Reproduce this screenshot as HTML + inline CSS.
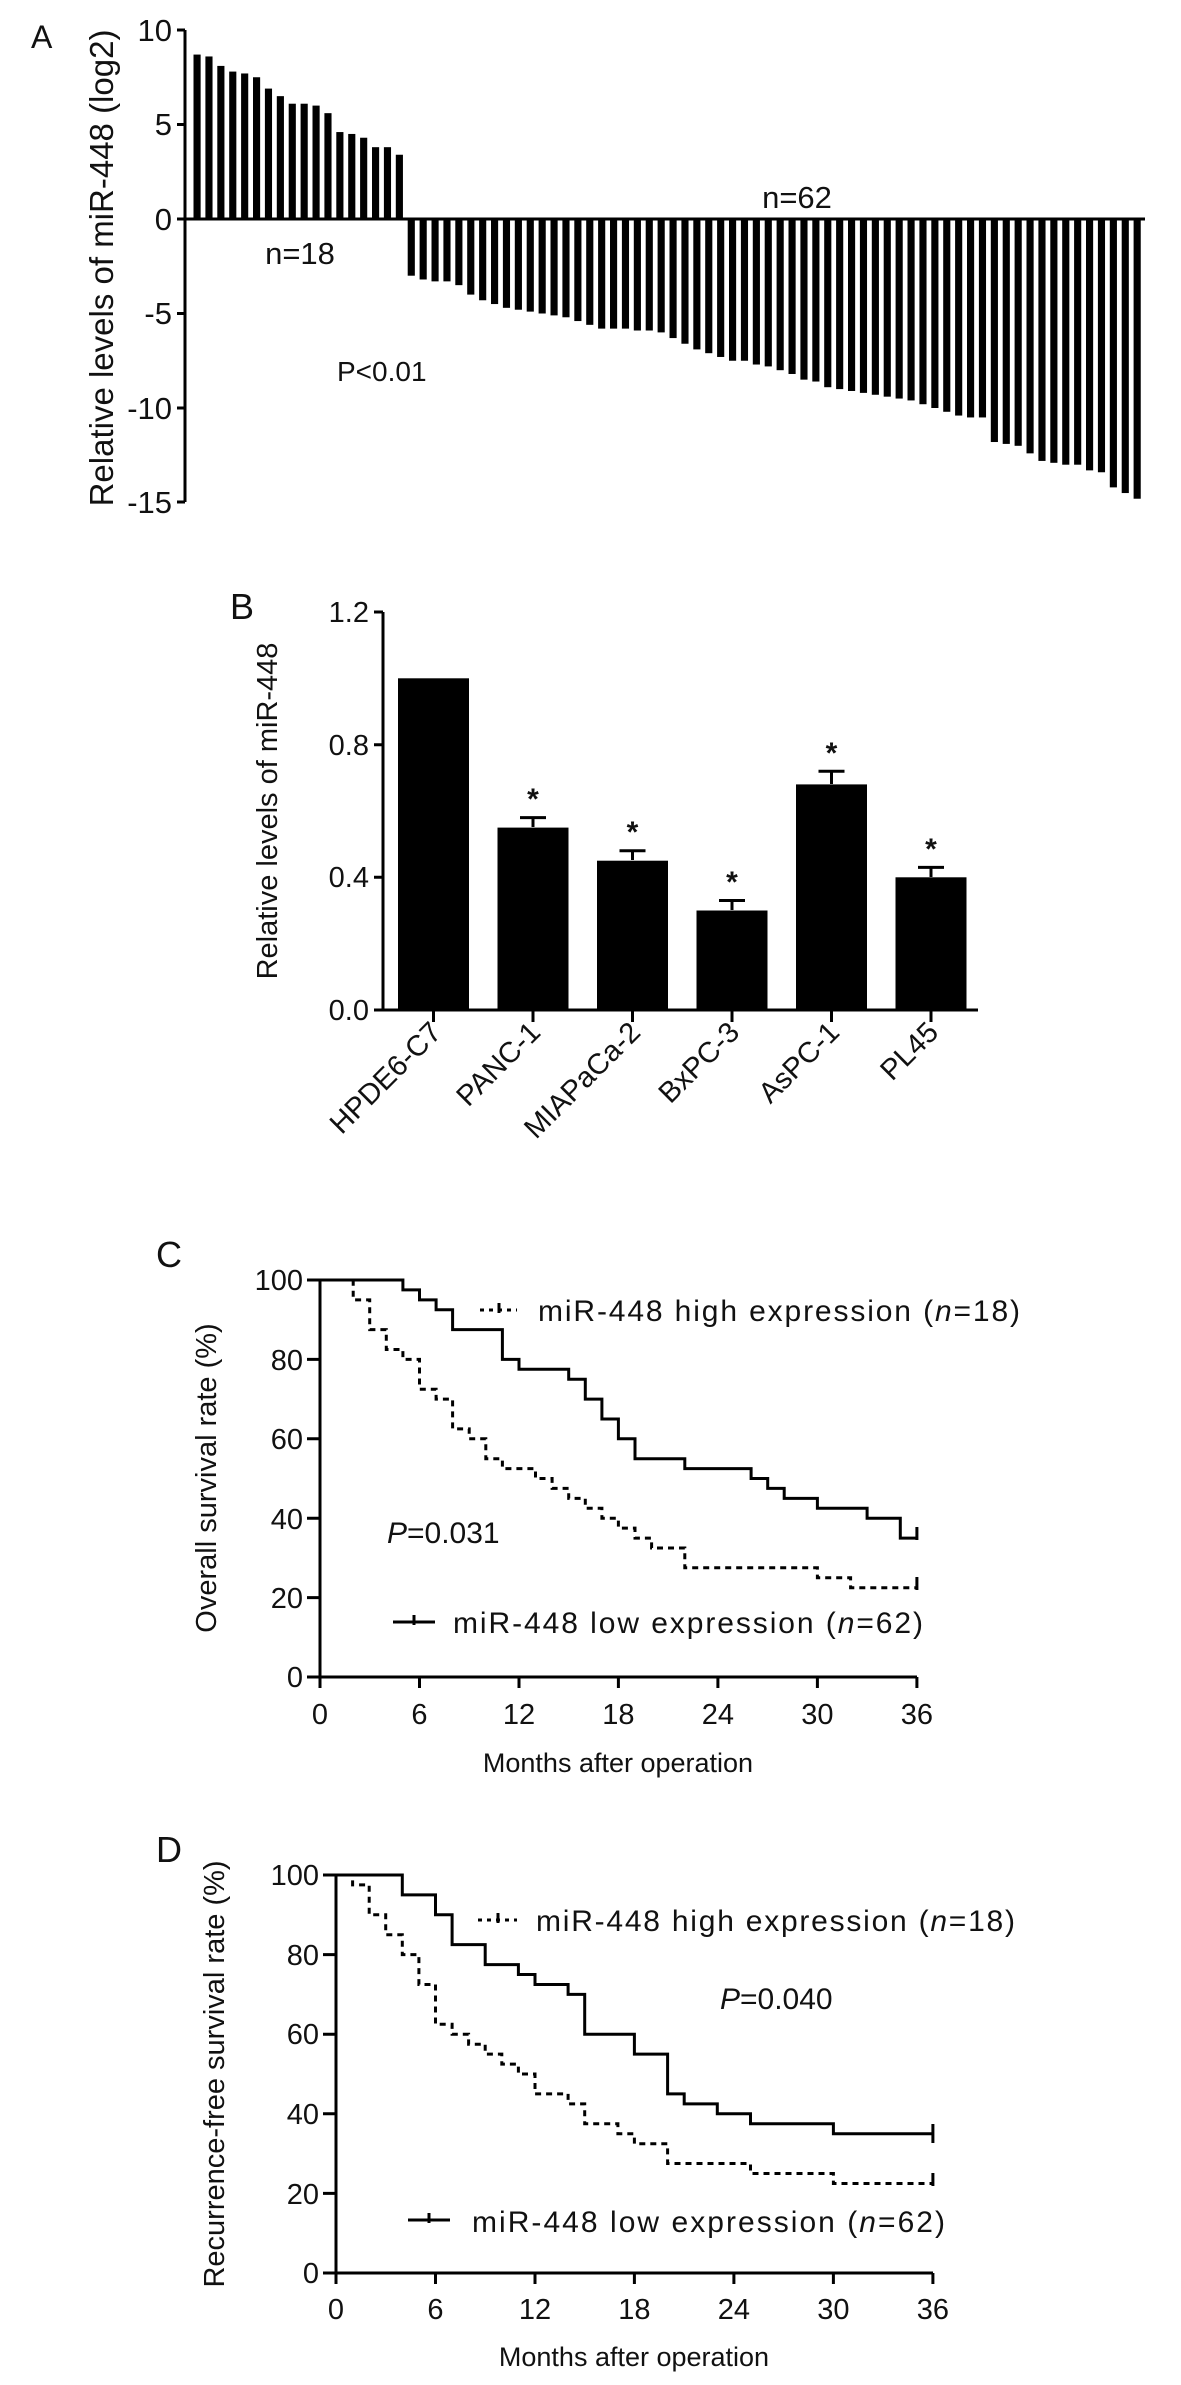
<!DOCTYPE html>
<html><head><meta charset="utf-8"><style>
html,body{margin:0;padding:0;background:#fff}
svg{display:block}
text{font-family:"Liberation Sans",Arial,sans-serif;fill:#111}
</style></head><body>
<svg width="1181" height="2385" viewBox="0 0 1181 2385" xmlns="http://www.w3.org/2000/svg">
<!-- Panel A -->
<text x="31" y="48" font-size="32">A</text>
<text transform="translate(113,268) rotate(-90)" font-size="33" text-anchor="middle">Relative levels of miR-448 (log2)</text>
<g stroke="#000" stroke-width="3" fill="none">
<path d="M185,30 V502 M177,30 H185 M177,124.5 H185 M177,219 H185 M177,313.5 H185 M177,408 H185 M177,502 H185 M185,219 H1145"/>
</g>
<g font-size="31" text-anchor="end">
<text x="172" y="41">10</text><text x="172" y="135">5</text><text x="172" y="230">0</text>
<text x="172" y="324">-5</text><text x="172" y="419">-10</text><text x="172" y="513">-15</text>
</g>
<g transform="translate(193.5,219) scale(11.9,-18.9)" fill="#000">
<rect x="0" y="0" width="0.6" height="8.7"/><rect x="1" y="0" width="0.6" height="8.6"/><rect x="2" y="0" width="0.6" height="8.1"/><rect x="3" y="0" width="0.6" height="7.8"/><rect x="4" y="0" width="0.6" height="7.7"/><rect x="5" y="0" width="0.6" height="7.5"/><rect x="6" y="0" width="0.6" height="6.9"/><rect x="7" y="0" width="0.6" height="6.5"/><rect x="8" y="0" width="0.6" height="6.1"/><rect x="9" y="0" width="0.6" height="6.1"/><rect x="10" y="0" width="0.6" height="6.0"/><rect x="11" y="0" width="0.6" height="5.6"/><rect x="12" y="0" width="0.6" height="4.6"/><rect x="13" y="0" width="0.6" height="4.5"/><rect x="14" y="0" width="0.6" height="4.3"/><rect x="15" y="0" width="0.6" height="3.8"/><rect x="16" y="0" width="0.6" height="3.8"/><rect x="17" y="0" width="0.6" height="3.4"/>
<rect x="18" y="-3.0" width="0.6" height="3.0"/><rect x="19" y="-3.2" width="0.6" height="3.2"/><rect x="20" y="-3.3" width="0.6" height="3.3"/><rect x="21" y="-3.3" width="0.6" height="3.3"/><rect x="22" y="-3.5" width="0.6" height="3.5"/><rect x="23" y="-4.0" width="0.6" height="4.0"/><rect x="24" y="-4.3" width="0.6" height="4.3"/><rect x="25" y="-4.5" width="0.6" height="4.5"/><rect x="26" y="-4.7" width="0.6" height="4.7"/><rect x="27" y="-4.8" width="0.6" height="4.8"/>
<rect x="28" y="-4.9" width="0.6" height="4.9"/><rect x="29" y="-5.0" width="0.6" height="5.0"/><rect x="30" y="-5.1" width="0.6" height="5.1"/><rect x="31" y="-5.2" width="0.6" height="5.2"/><rect x="32" y="-5.4" width="0.6" height="5.4"/><rect x="33" y="-5.6" width="0.6" height="5.6"/><rect x="34" y="-5.8" width="0.6" height="5.8"/><rect x="35" y="-5.8" width="0.6" height="5.8"/><rect x="36" y="-5.8" width="0.6" height="5.8"/><rect x="37" y="-5.9" width="0.6" height="5.9"/>
<rect x="38" y="-5.9" width="0.6" height="5.9"/><rect x="39" y="-6.0" width="0.6" height="6.0"/><rect x="40" y="-6.3" width="0.6" height="6.3"/><rect x="41" y="-6.6" width="0.6" height="6.6"/><rect x="42" y="-6.9" width="0.6" height="6.9"/><rect x="43" y="-7.1" width="0.6" height="7.1"/><rect x="44" y="-7.3" width="0.6" height="7.3"/><rect x="45" y="-7.5" width="0.6" height="7.5"/><rect x="46" y="-7.5" width="0.6" height="7.5"/><rect x="47" y="-7.7" width="0.6" height="7.7"/>
<rect x="48" y="-7.8" width="0.6" height="7.8"/><rect x="49" y="-8.0" width="0.6" height="8.0"/><rect x="50" y="-8.2" width="0.6" height="8.2"/><rect x="51" y="-8.5" width="0.6" height="8.5"/><rect x="52" y="-8.6" width="0.6" height="8.6"/><rect x="53" y="-8.9" width="0.6" height="8.9"/><rect x="54" y="-9.0" width="0.6" height="9.0"/><rect x="55" y="-9.1" width="0.6" height="9.1"/><rect x="56" y="-9.2" width="0.6" height="9.2"/><rect x="57" y="-9.3" width="0.6" height="9.3"/>
<rect x="58" y="-9.4" width="0.6" height="9.4"/><rect x="59" y="-9.5" width="0.6" height="9.5"/><rect x="60" y="-9.6" width="0.6" height="9.6"/><rect x="61" y="-9.8" width="0.6" height="9.8"/><rect x="62" y="-10.0" width="0.6" height="10.0"/><rect x="63" y="-10.2" width="0.6" height="10.2"/><rect x="64" y="-10.4" width="0.6" height="10.4"/><rect x="65" y="-10.5" width="0.6" height="10.5"/><rect x="66" y="-10.5" width="0.6" height="10.5"/><rect x="67" y="-11.8" width="0.6" height="11.8"/>
<rect x="68" y="-11.9" width="0.6" height="11.9"/><rect x="69" y="-12.0" width="0.6" height="12.0"/><rect x="70" y="-12.4" width="0.6" height="12.4"/><rect x="71" y="-12.8" width="0.6" height="12.8"/><rect x="72" y="-12.9" width="0.6" height="12.9"/><rect x="73" y="-13.0" width="0.6" height="13.0"/><rect x="74" y="-13.0" width="0.6" height="13.0"/><rect x="75" y="-13.3" width="0.6" height="13.3"/><rect x="76" y="-13.4" width="0.6" height="13.4"/><rect x="77" y="-14.2" width="0.6" height="14.2"/><rect x="78" y="-14.5" width="0.6" height="14.5"/><rect x="79" y="-14.8" width="0.6" height="14.8"/>
</g>
<text x="300" y="264" font-size="31" text-anchor="middle">n=18</text>
<text x="797" y="208" font-size="31" text-anchor="middle">n=62</text>
<text x="337" y="381" font-size="28">P&lt;0.01</text>

<!-- Panel B -->
<text x="230" y="619" font-size="36">B</text>
<text transform="translate(277,811) rotate(-90)" font-size="29" text-anchor="middle">Relative levels of miR-448</text>
<g stroke="#000" stroke-width="3" fill="none">
<path d="M383,612 V1010 M374,612 H383 M374,744.7 H383 M374,877.3 H383 M374,1010 H383 M383,1010 H978"/>
<path d="M433.5,1010 V1022 M533,1010 V1022 M632.5,1010 V1022 M732,1010 V1022 M831.5,1010 V1022 M931,1010 V1022"/>
<path d="M533,827 V817.6 M520,817.6 H546 M632.5,860 V850.8 M619.5,850.8 H645.5 M732,910 V900.5 M719,900.5 H745 M831.5,784 V771.2 M818.5,771.2 H844.5 M931,877 V867.4 M918,867.4 H944"/>
</g>
<g font-size="29" text-anchor="end">
<text x="369" y="622">1.2</text><text x="369" y="755">0.8</text><text x="369" y="887">0.4</text><text x="369" y="1020">0.0</text>
</g>
<g fill="#000">
<rect x="398" y="678.3" width="71" height="331.7"/>
<rect x="497.5" y="827.6" width="71" height="182.4"/>
<rect x="597" y="860.7" width="71" height="149.3"/>
<rect x="696.5" y="910.5" width="71" height="99.5"/>
<rect x="796" y="784.4" width="71" height="225.6"/>
<rect x="895.5" y="877.3" width="71" height="132.7"/>
</g>
<g font-size="30" text-anchor="middle" font-weight="bold">
<text x="533" y="809">*</text><text x="632.5" y="842">*</text><text x="732" y="892">*</text><text x="831.5" y="763">*</text><text x="931" y="859">*</text>
</g>
<g font-size="29" text-anchor="end">
<text transform="translate(443,1034) rotate(-45)">HPDE6-C7</text>
<text transform="translate(542,1034) rotate(-45)">PANC-1</text>
<text transform="translate(642,1034) rotate(-45)">MIAPaCa-2</text>
<text transform="translate(741,1034) rotate(-45)">BxPC-3</text>
<text transform="translate(841,1034) rotate(-45)">AsPC-1</text>
<text transform="translate(940,1034) rotate(-45)">PL45</text>
</g>

<!-- Panel C -->
<text x="156" y="1267" font-size="36">C</text>
<text transform="translate(216,1478) rotate(-90)" font-size="29" text-anchor="middle">Overall survival rate (%)</text>
<g stroke="#000" stroke-width="3" fill="none">
<path d="M320,1280 V1677 H917 M307,1280 H320 M307,1359.4 H320 M307,1438.8 H320 M307,1518.2 H320 M307,1597.6 H320 M307,1677 H320"/>
<path d="M320,1677 V1688 M419.5,1677 V1688 M519,1677 V1688 M618.4,1677 V1688 M717.9,1677 V1688 M817.4,1677 V1688 M916.9,1677 V1688"/>
<path d="M320,1280 H402.9 V1289.9 H419.5 V1299.9 H436.1 V1309.8 H452.6 V1329.6 H502.4 V1359.4 H519 V1369.3 H568.7 V1379.3 H585.3 V1399.1 H601.9 V1419 H618.4 V1438.8 H635 V1458.7 H684.8 V1468.6 H751.1 V1478.5 H767.7 V1488.4 H784.2 V1498.4 H817.4 V1508.3 H867.1 V1518.2 H900.3 V1538.1 H916.9 M916.9,1527 V1540"/>
<path stroke-dasharray="6,5" d="M320,1280 H353.2 V1299.9 H369.7 V1329.6 H386.3 V1349.5 H402.9 V1359.4 H419.5 V1389.2 H436.1 V1399.1 H452.6 V1428.9 H469.2 V1438.8 H485.8 V1458.7 H502.4 V1468.6 H535.5 V1478.5 H552.1 V1488.4 H568.7 V1498.4 H585.3 V1508.3 H601.9 V1518.2 H618.4 V1528.1 H635 V1538.1 H651.6 V1548 H684.8 V1567.8 H817.4 V1577.8 H850.6 V1587.7 H916.9"/>
<path d="M916.9,1577 V1590"/>
<path stroke-dasharray="4,5" d="M480,1310 H517"/><path d="M499,1303 V1313"/>
<path d="M393,1622 H435 M414,1615 V1625"/>
</g>
<g font-size="29" text-anchor="end">
<text x="303" y="1290">100</text><text x="303" y="1370">80</text><text x="303" y="1449">60</text><text x="303" y="1529">40</text><text x="303" y="1608">20</text><text x="303" y="1687">0</text>
</g>
<g font-size="29" text-anchor="middle">
<text x="320" y="1724">0</text><text x="419.5" y="1724">6</text><text x="519" y="1724">12</text><text x="618.4" y="1724">18</text><text x="717.9" y="1724">24</text><text x="817.4" y="1724">30</text><text x="916.9" y="1724">36</text>
</g>
<text x="618" y="1772" font-size="27" text-anchor="middle">Months after operation</text>
<text x="538" y="1321" font-size="30" textLength="482" lengthAdjust="spacing">miR-448 high expression  (<tspan font-style="italic">n</tspan>=18)</text>
<text x="453" y="1633" font-size="30" textLength="470" lengthAdjust="spacing">miR-448 low expression  (<tspan font-style="italic">n</tspan>=62)</text>
<text x="387" y="1543" font-size="30"><tspan font-style="italic">P</tspan>=0.031</text>

<!-- Panel D -->
<text x="156" y="1862" font-size="36">D</text>
<text transform="translate(224,2074) rotate(-90)" font-size="29" text-anchor="middle">Recurrence-free survival rate (%)</text>
<g stroke="#000" stroke-width="3" fill="none">
<path d="M336,1875 V2273 H933 M323,1875 H336 M323,1954.6 H336 M323,2034.2 H336 M323,2113.8 H336 M323,2193.4 H336 M323,2273 H336"/>
<path d="M336,2273 V2284 M435.5,2273 V2284 M535,2273 V2284 M634.4,2273 V2284 M733.9,2273 V2284 M833.4,2273 V2284 M932.9,2273 V2284"/>
<path d="M336,1875 H402.3 V1894.9 H435.5 V1914.8 H452.1 V1944.6 H485.2 V1964.6 H518.4 V1974.5 H535 V1984.5 H568.1 V1994.4 H584.7 V2034.2 H634.4 V2054.1 H667.6 V2093.9 H684.2 V2103.9 H717.3 V2113.8 H750.5 V2123.8 H833.4 V2133.7 H932.9 M932.9,2124 V2143"/>
<path stroke-dasharray="6,5" d="M336,1875 H352.6 V1884.9 H369.2 V1914.8 H385.7 V1934.7 H402.3 V1954.6 H418.9 V1984.5 H435.5 V2024.3 H452.1 V2034.2 H468.6 V2044.2 H485.2 V2054.1 H501.8 V2064.1 H518.4 V2074 H535 V2093.9 H568.1 V2103.9 H584.7 V2123.8 H617.9 V2133.7 H634.4 V2143.7 H667.6 V2163.5 H750.5 V2173.5 H833.4 V2183.5 H932.9"/>
<path d="M932.9,2173 V2186"/>
<path stroke-dasharray="4,5" d="M478,1920 H517"/><path d="M498,1913 V1923"/>
<path d="M408,2220 H450 M429,2213 V2223"/>
</g>
<g font-size="29" text-anchor="end">
<text x="319" y="1885">100</text><text x="319" y="1965">80</text><text x="319" y="2044">60</text><text x="319" y="2124">40</text><text x="319" y="2204">20</text><text x="319" y="2283">0</text>
</g>
<g font-size="29" text-anchor="middle">
<text x="336" y="2319">0</text><text x="435.5" y="2319">6</text><text x="535" y="2319">12</text><text x="634.4" y="2319">18</text><text x="733.9" y="2319">24</text><text x="833.4" y="2319">30</text><text x="932.9" y="2319">36</text>
</g>
<text x="634" y="2366" font-size="27" text-anchor="middle">Months after operation</text>
<text x="536" y="1931" font-size="30" textLength="479" lengthAdjust="spacing">miR-448 high expression  (<tspan font-style="italic">n</tspan>=18)</text>
<text x="472" y="2232" font-size="30" textLength="473" lengthAdjust="spacing">miR-448 low expression  (<tspan font-style="italic">n</tspan>=62)</text>
<text x="720" y="2009" font-size="30"><tspan font-style="italic">P</tspan>=0.040</text>
</svg>
</body></html>
